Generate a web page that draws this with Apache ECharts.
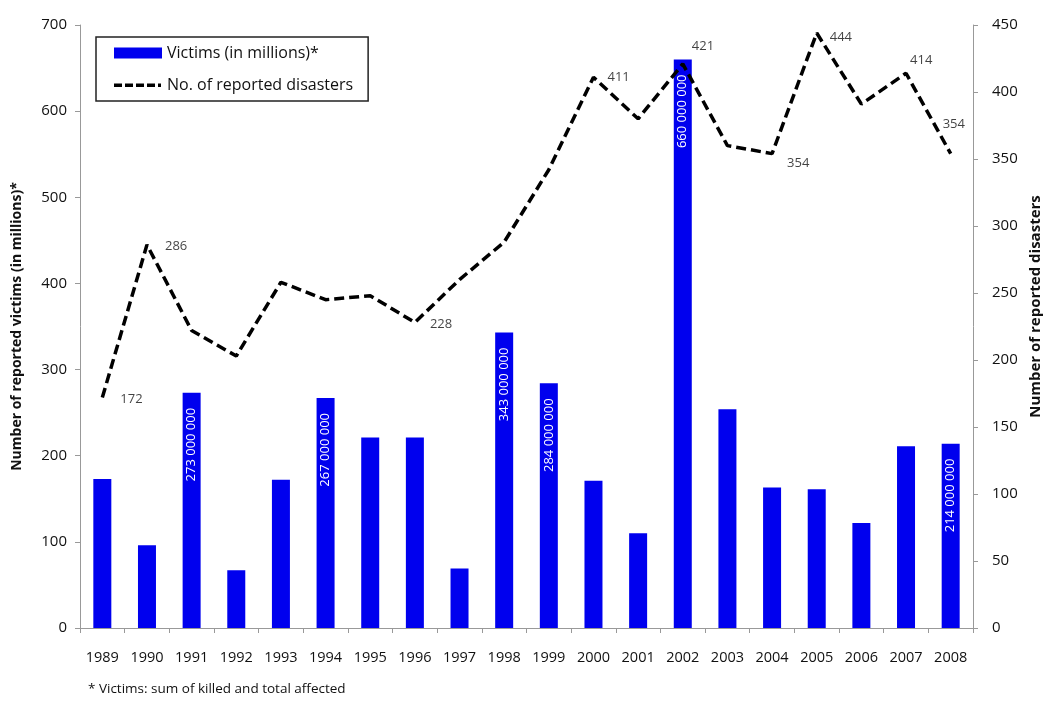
<!DOCTYPE html>
<html>
<head>
<meta charset="utf-8">
<script src="https://cdn.jsdelivr.net/npm/echarts@6/dist/echarts.min.js"></script>
<style>
html,body{margin:0;padding:0;background:#fff;}
#c{width:1043px;height:702px;}
</style>
</head>
<body>
<div id="c"></div>
<script>
const years = ['1989','1990','1991','1992','1993','1994','1995','1996','1997','1998','1999','2000','2001','2002','2003','2004','2005','2006','2007','2008'];
const victims = [173, 96, 273, 67, 172, 267, 221, 221, 69, 343, 284, 171, 110, 660, 254, 163, 161, 122, 211, 214];
const disasters = [172, 286, 222, 203, 258, 245, 248, 228, 260, 288, 342, 411, 380, 421, 360, 354, 444, 391, 414, 354];
const labelledBars = ['1991','1994','1998','1999','2002','2008'];
const labelledPoints = ['1989','1990','1996','2000','2002','2004','2005','2007','2008'];
const leftTicks = [0, 100, 200, 300, 400, 500, 600, 700];
const rightTicks = [0, 50, 100, 150, 200, 250, 300, 350, 400, 450];

const FONT = '"Open Sans", "Noto Sans", sans-serif';
const pointOffsets = {
  '1989':[18,2], '1990':[18,2], '1996':[15,2], '2000':[14,0], '2002':[9,-18],
  '2004':[15,10], '2005':[13,4], '2007':[4,-13], '2008':[-8,-29]
};
const dashIcon = 'path://M0,0h0.01v0.01h-0.01z M47.99,10.99h0.01v0.01h-0.01z M0,4h8v3.5h-8z M11,4h8v3.5h-8z M22,4h8v3.5h-8z M33,4h8v3.5h-8z M44,4h3v3.5h-3z';
function fmtMillions(v){
  const s = String(Math.round(v*1000000));
  return s.replace(/\B(?=(\d{3})+(?!\d))/g, ' ');
}
const barData = victims.map((v,i)=>{
  const show = labelledBars.indexOf(years[i]) >= 0;
  return {value:v, label:{show:show}};
});
const lineData = disasters.slice();
const pointLabelData = disasters.map((v,i)=>{
  const y = years[i];
  const show = labelledPoints.indexOf(y) >= 0;
  return {value:v, label:{show:show, offset: pointOffsets[y] || [0,0]}};
});

const chart = echarts.init(document.getElementById('c'), null, {renderer:'canvas'});
chart.setOption({
  backgroundColor:'#fff',
  animation:false,
  textStyle:{fontFamily:FONT},
  grid:{left:80, right:70, top:25, bottom:74, containLabel:false, outerBoundsMode:'none'},
  legend:{
    orient:'vertical', left:96, top:37,
    padding:[8,15,8,18],
    itemWidth:48, itemHeight:11, itemGap:16,
    borderColor:'#222', borderWidth:1.5,
    textStyle:{fontFamily:FONT, fontSize:16, color:'#111'},
    data:[
      {name:'Victims (in millions)*', icon:'rect'},
      {name:'No. of reported disasters', icon:dashIcon, itemStyle:{color:'#000', borderWidth:0}}
    ]
  },
  graphic:[{
    type:'text', left:88, top:682,
    style:{text:'* Victims: sum of killed and total affected', font:'13.5px '+FONT, fill:'#111'}
  }],
  xAxis:{
    type:'category', data:years,
    axisLine:{lineStyle:{color:'#999', width:1}},
    axisTick:{show:true, alignWithLabel:false, length:5, lineStyle:{color:'#999'}},
    axisLabel:{color:'#111', fontSize:14.5, margin:22, fontFamily:FONT, interval:0},
    splitLine:{show:false}
  },
  yAxis:[{
    type:'value', min:leftTicks[0], max:leftTicks[leftTicks.length-1], interval:100,
    name:'Number of reported victims (in millions)*',
    nameLocation:'middle', nameGap:56,
    nameTextStyle:{fontSize:14, fontWeight:'bold', color:'#111', fontFamily:FONT},
    axisLine:{show:true, lineStyle:{color:'#999'}},
    axisTick:{show:true, length:5, lineStyle:{color:'#999'}},
    axisLabel:{color:'#111', fontSize:15, margin:13, fontFamily:FONT},
    splitLine:{show:false}
  },{
    type:'value', min:rightTicks[0], max:rightTicks[rightTicks.length-1], interval:50,
    position:'right',
    name:'Number of reported disasters',
    nameLocation:'middle', nameGap:52, nameRotate:90,
    nameTextStyle:{fontSize:15, fontWeight:'bold', color:'#111', fontFamily:FONT, padding:[0,0,0,40]},
    axisLine:{show:true, lineStyle:{color:'#999'}},
    axisTick:{show:true, length:5, lineStyle:{color:'#999'}},
    axisLabel:{color:'#111', fontSize:15, margin:19, fontFamily:FONT},
    splitLine:{show:false}
  }],
  series:[{
    name:'Victims (in millions)*',
    type:'bar', yAxisIndex:0, data:barData,
    barWidth:18,
    itemStyle:{color:'#0000ee'},
    label:{
      position:'insideTop', rotate:90, align:'right', verticalAlign:'middle',
      offset:[-10,0],
      color:'#fff', fontSize:13, fontFamily:FONT,
      formatter:(p)=>fmtMillions(p.value)
    }
  },{
    name:'No. of reported disasters',
    type:'line', yAxisIndex:1, data:lineData,
    symbol:'none',
    lineStyle:{color:'#000', width:3.5, type:[10,5]},
    itemStyle:{color:'#000'},
    z:5
  },{
    name:'labels',
    type:'scatter', yAxisIndex:1, data:pointLabelData,
    symbolSize:0, silent:true,
    itemStyle:{color:'transparent'},
    label:{position:'right', color:'#111', fontSize:13, fontFamily:FONT, distance:0},
    z:6
  }]
});
</script>
</body>
</html>
